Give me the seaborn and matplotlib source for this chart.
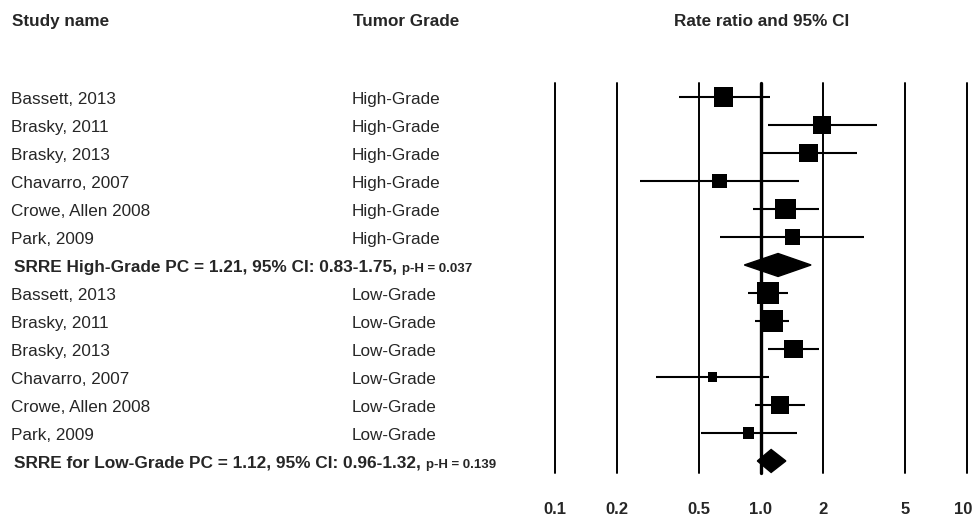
import matplotlib
matplotlib.use("Agg")
import matplotlib.pyplot as plt
import matplotlib.transforms as mtransforms
import numpy as np
import pandas as pd
import seaborn as sns

# data
studies = ["Bassett, 2013", "Brasky, 2011", "Brasky, 2013",
           "Chavarro, 2007", "Crowe, Allen 2008", "Park, 2009"]
est_high = [0.66, 1.98, 1.70, 0.63, 1.32, 1.42]
lo_high = [0.40, 1.08, 1.01, 0.26, 0.91, 0.63]
hi_high = [1.11, 3.64, 2.91, 1.53, 1.91, 3.17]
w_high = [36, 31, 35, 22, 43, 23]
est_low = [1.08, 1.13, 1.44, 0.58, 1.24, 0.87]
lo_low = [0.86, 0.93, 1.08, 0.31, 0.94, 0.51]
hi_low = [1.35, 1.37, 1.91, 1.09, 1.64, 1.50]
w_low = [45, 50, 35, 9, 33, 14]

pooled_high = (1.21, 0.83, 1.75, 0.037)
pooled_low = (1.12, 0.96, 1.32, 0.139)

ticks = [0.1, 0.2, 0.5, 1, 2, 5, 10]
tick_labels = ["0.1", "0.2", "0.5", "1.0", "2", "5", "10"]

sns.set_style("white")
plt.rcParams["font.family"] = ["Liberation Sans", "DejaVu Sans"]

n = len(studies)
df = pd.DataFrame({
    "study": studies + studies,
    "grade": ["High-Grade"] * n + ["Low-Grade"] * n,
    "est": est_high + est_low,
    "lo": lo_high + lo_low,
    "hi": hi_high + hi_low,
    "weight": w_high + w_low,
    "row": list(range(n)) + list(range(n + 1, 2 * n + 1)),
})
summ = pd.DataFrame({
    "label": ["SRRE High-Grade PC", "SRRE for Low-Grade PC"],
    "est": [pooled_high[0], pooled_low[0]],
    "lo": [pooled_high[1], pooled_low[1]],
    "hi": [pooled_high[2], pooled_low[2]],
    "p": [pooled_high[3], pooled_low[3]],
    "row": [n, 2 * n + 1],
})

W, H = 974, 516
fig = plt.figure(figsize=(W / 100, H / 100), dpi=100)
ax = fig.add_axes([555 / W, 1 - 473 / H, 412 / W, 390 / H])

# reference lines
for t in ticks:
    ax.axvline(t, color="black", lw=2.4 if t == 1 else 1.4, clip_on=False, zorder=1)

# confidence intervals
ax.hlines(df["row"], df["lo"], df["hi"], color="black", lw=1.5, zorder=2)

# study squares, area ~ weight
k = 5.2
sns.scatterplot(data=df, x="est", y="row", size="weight",
                sizes=(df["weight"].min() * k, df["weight"].max() * k),
                size_norm=(df["weight"].min(), df["weight"].max()),
                marker="s", color="black", linewidth=0, legend=False,
                ax=ax, zorder=3)

# pooled diamonds
for _, r in summ.iterrows():
    ax.fill([r["lo"], r["est"], r["hi"], r["est"]],
            [r["row"], r["row"] - 0.41, r["row"], r["row"] + 0.41],
            color="black", zorder=3, clip_on=False)

ax.set_xscale("log")
ax.set_xlim(0.1, 10)
ax.set_ylim(2 * n + 1.43, -0.5)
ax.set_xticks(ticks)
ax.set_xticklabels(tick_labels, fontsize=12, fontweight="bold")
ax.minorticks_off()
ax.set_yticks([])
ax.set_xlabel("")
ax.set_ylabel("")
ax.tick_params(axis="x", length=0, pad=21)
# keep the last label inside the canvas
last = ax.get_xticklabels()[-1]
last.set_transform(last.get_transform() + mtransforms.ScaledTranslation(-4 / 100, 0, fig.dpi_scale_trans))
for s in ax.spines.values():
    s.set_visible(False)
ax.patch.set_alpha(0)

# headers
for x, label in [(12, "Study name"), (353, "Tumor Grade"), (674, "Rate ratio and 95% CI")]:
    fig.text(x / W, 1 - 26 / H, label, fontsize=12.3, fontweight="bold", va="baseline")

# table columns aligned with rows
tr = mtransforms.blended_transform_factory(fig.transFigure, ax.transData)
for _, r in df.iterrows():
    ax.text(11 / W, r["row"] + 0.1, r["study"], transform=tr, fontsize=12.3, va="center")
    ax.text(352 / W, r["row"] + 0.1, r["grade"], transform=tr, fontsize=12.3, va="center")

fig.canvas.draw()
renderer = fig.canvas.get_renderer()
for _, r in summ.iterrows():
    main = "%s = %.2f, 95%% CI: %.2f-%.2f, " % (r["label"], r["est"], r["lo"], r["hi"])
    t1 = ax.text(14 / W, r["row"] + 0.25, main, transform=tr, fontsize=12.4,
                 fontweight="bold", va="baseline")
    bb = t1.get_window_extent(renderer)
    x2 = fig.transFigure.inverted().transform((bb.x1, bb.y0))[0]
    ax.text(x2, r["row"] + 0.25, "p-H = %.3f" % r["p"], transform=tr, fontsize=9.5,
            fontweight="bold", va="baseline")

fig.savefig("out.png", dpi=100)
